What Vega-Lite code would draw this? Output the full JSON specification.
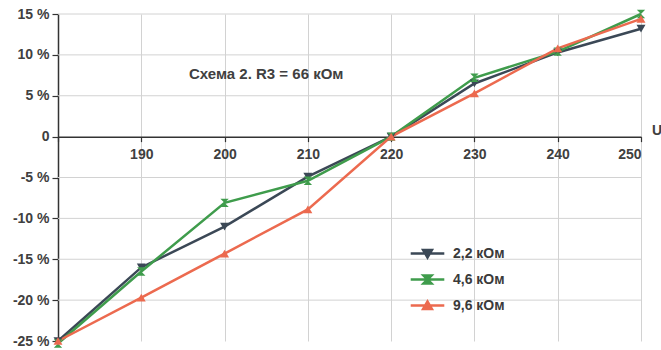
{
  "$schema": "https://vega.github.io/schema/vega-lite/v6.json",
  "width": 583,
  "height": 327,
  "autosize": {"type": "none"},
  "padding": {"left": 58, "top": 14, "right": 20, "bottom": 9},
  "background": "white",
  "config": {
    "view": {"stroke": null},
    "font": "Liberation Sans",
    "axis": {"labelFont": "Liberation Sans", "labelFontSize": 14, "labelFontWeight": "bold", "labelColor": "#404040", "gridColor": "#d2d2d2", "gridWidth": 1, "gridOpacity": 1}
  },
  "datasets": {
    "series": [
      {"u": 180, "v": -25, "s": "2,2 кОм"},
      {"u": 190, "v": -16, "s": "2,2 кОм"},
      {"u": 200, "v": -11, "s": "2,2 кОм"},
      {"u": 210, "v": -4.9, "s": "2,2 кОм"},
      {"u": 220, "v": 0, "s": "2,2 кОм"},
      {"u": 230, "v": 6.5, "s": "2,2 кОм"},
      {"u": 240, "v": 10.3, "s": "2,2 кОм"},
      {"u": 250, "v": 13.2, "s": "2,2 кОм"},
      {"u": 180, "v": -25.3, "s": "4,6 кОм"},
      {"u": 190, "v": -16.5, "s": "4,6 кОм"},
      {"u": 200, "v": -8.1, "s": "4,6 кОм"},
      {"u": 210, "v": -5.4, "s": "4,6 кОм"},
      {"u": 220, "v": 0, "s": "4,6 кОм"},
      {"u": 230, "v": 7.2, "s": "4,6 кОм"},
      {"u": 240, "v": 10.4, "s": "4,6 кОм"},
      {"u": 250, "v": 15, "s": "4,6 кОм"},
      {"u": 180, "v": -25, "s": "9,6 кОм"},
      {"u": 190, "v": -19.7, "s": "9,6 кОм"},
      {"u": 200, "v": -14.3, "s": "9,6 кОм"},
      {"u": 210, "v": -8.9, "s": "9,6 кОм"},
      {"u": 220, "v": 0, "s": "9,6 кОм"},
      {"u": 230, "v": 5.3, "s": "9,6 кОм"},
      {"u": 240, "v": 10.8, "s": "9,6 кОм"},
      {"u": 250, "v": 14.4, "s": "9,6 кОм"}
    ],
    "hgrid": [{"g": -20}, {"g": -15}, {"g": -10}, {"g": -5}, {"g": 5}, {"g": 10}, {"g": 15}]
  },
  "layer": [
    {
      "data": {"name": "hgrid"},
      "mark": {"type": "rule", "color": "#d2d2d2", "strokeWidth": 1},
      "encoding": {"y": {"field": "g", "type": "quantitative"}}
    },
    {
      "data": {"name": "series"},
      "mark": {"type": "line", "strokeWidth": 2.5},
      "encoding": {
        "x": {"field": "u", "type": "quantitative", "scale": {"domain": [180, 250], "nice": false, "zero": false},
          "axis": {"orient": "bottom", "offset": -204.375, "values": [180, 190, 200, 210, 220, 230, 240, 250], "grid": true,
            "labelExpr": "datum.value == 180 ? '' : datum.label",
            "domainColor": "#333333", "domainWidth": 1.5, "tickColor": "#333333", "tickSize": 5, "tickWidth": 1.2, "labelPadding": 6, "title": null}},
        "y": {"field": "v", "type": "quantitative", "scale": {"domain": [-25, 15], "nice": false, "zero": false},
          "axis": {"values": [-25, -20, -15, -10, -5, 0, 5, 10, 15], "grid": false,
            "labelExpr": "datum.value == 0 ? '0' : datum.value + ' %'", "domainColor": "#333333", "domainWidth": 1.5,
            "tickColor": "#333333", "tickSize": 6, "tickWidth": 1.2, "labelPadding": 3, "title": null}},
        "color": {"field": "s", "type": "nominal",
          "scale": {"domain": ["2,2 кОм", "4,6 кОм", "9,6 кОм"], "range": ["#3b4856", "#3f9c4c", "#ec6a4f"]},
          "legend": {
            "orient": "none", "legendX": 360, "legendY": 230, "title": null, "padding": 0,
            "symbolSize": 256, "symbolStrokeWidth": 2.5, "symbolType": "M-2.1,0L2.1,0",
            "labelFont": "Liberation Sans", "labelFontSize": 14, "labelFontWeight": "bold", "labelColor": "#3a3a3a",
            "labelOffset": 16, "rowPadding": 7,
            "encode": {"symbols": {"update": {
              "shape": {"signal": "datum.value === '2,2 кОм' ? 'M-2.1,0L2.1,0M-0.55,-0.45L0.55,-0.45L0,0.5Z' : (datum.value === '4,6 кОм' ? 'M-2.1,0L2.1,0M-0.5,-0.5L0.5,-0.5L-0.5,0.5L0.5,0.5Z' : 'M-2.1,0L2.1,0M-0.55,0.45L0.55,0.45L0,-0.5Z')"},
              "fill": {"signal": "datum.value === '2,2 кОм' ? '#3b4856' : (datum.value === '4,6 кОм' ? '#3f9c4c' : '#ec6a4f')"}
            }}}
          }}
      }
    },
    {
      "data": {"name": "series"},
      "transform": [{"filter": "datum.s === '2,2 кОм'"}],
      "mark": {"type": "point", "filled": true, "size": 80, "opacity": 1, "shape": "triangle-down"},
      "encoding": {
        "x": {"field": "u", "type": "quantitative"},
        "y": {"field": "v", "type": "quantitative"},
        "color": {"field": "s", "type": "nominal", "legend": null}
      }
    },
    {
      "data": {"name": "series"},
      "transform": [{"filter": "datum.s === '4,6 кОм'"}],
      "mark": {"type": "point", "filled": true, "size": 70, "opacity": 1, "shape": "M-1,-1L1,-1L-1,1L1,1Z"},
      "encoding": {
        "x": {"field": "u", "type": "quantitative"},
        "y": {"field": "v", "type": "quantitative"},
        "color": {"field": "s", "type": "nominal", "legend": null}
      }
    },
    {
      "data": {"name": "series"},
      "transform": [{"filter": "datum.s === '9,6 кОм'"}],
      "mark": {"type": "point", "filled": true, "size": 80, "opacity": 1, "shape": "triangle-up"},
      "encoding": {
        "x": {"field": "u", "type": "quantitative"},
        "y": {"field": "v", "type": "quantitative"},
        "color": {"field": "s", "type": "nominal", "legend": null}
      }
    },
    {
      "data": {"values": [{"u": 205, "v": 7.7, "t": "Схема 2. R3 = 66 кОм"}]},
      "mark": {"type": "text", "font": "Liberation Sans", "fontSize": 15, "fontWeight": "bold", "color": "#404040", "align": "center", "baseline": "middle"},
      "encoding": {
        "x": {"field": "u", "type": "quantitative"},
        "y": {"field": "v", "type": "quantitative"},
        "text": {"field": "t"}
      }
    },
    {
      "data": {"values": [{"u": 250, "v": 0, "t": "U"}]},
      "mark": {"type": "text", "font": "Liberation Sans", "fontSize": 14, "fontWeight": "bold", "color": "#404040", "align": "left", "baseline": "middle", "dx": 11, "dy": -6},
      "encoding": {
        "x": {"field": "u", "type": "quantitative"},
        "y": {"field": "v", "type": "quantitative"},
        "text": {"field": "t"}
      }
    }
  ]
}
